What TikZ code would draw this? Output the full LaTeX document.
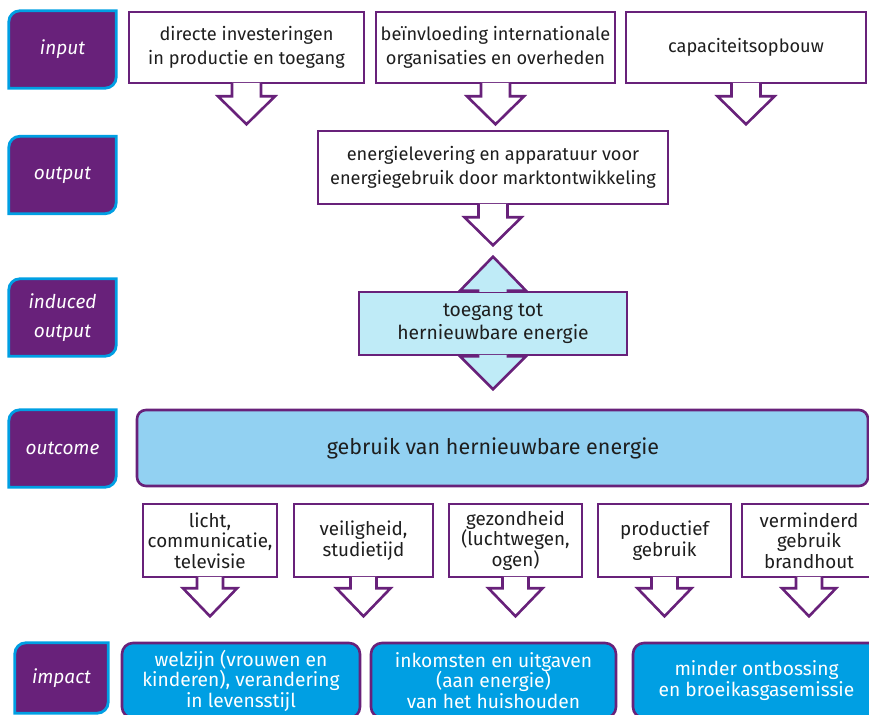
\documentclass[tikz,border=0pt]{standalone}
\usepackage{fontspec}
\setmainfont{Fira Sans}
\usetikzlibrary{positioning}

\definecolor{paars}{RGB}{104,33,122}
\definecolor{cyaan}{RGB}{0,159,227}
\definecolor{lichtblauw}{RGB}{146,209,242}
\definecolor{ijsblauw}{RGB}{191,235,247}
\definecolor{tekst}{RGB}{30,30,30}

\pgfdeclarelayer{achtergrond}
\pgfsetlayers{achtergrond,main}

% label box: rounded top left and bottom right
\newcommand\labelvorm[1]{%
  \begin{pgfonlayer}{achtergrond}
    \draw[labelrand] (#1.south west) -- ([yshift=-11pt]#1.north west)
      arc[start angle=180,end angle=90,radius=11pt] -- (#1.north east)
      -- ([yshift=11pt]#1.south east)
      arc[start angle=0,end angle=-90,radius=11pt] -- cycle;
  \end{pgfonlayer}}
% block arrow below a box: node, shaft length, half width of head
\newcommand\pijlomlaag[3]{%
  \draw[blokpijl] ([xshift={-(#3-14)*1pt},yshift=1.3pt]#1.south) -- ++(0,{-(#2+1.3)})
    -- ++(-14,0) -- ++(#3,-28) -- ++(#3,28) -- ++(-14,0) -- ++(0,{#2+1.3});}

\begin{document}
\begin{tikzpicture}[x=1pt, y=1pt,
    lbl/.style={text=white, font=\fontsize{19}{29}\selectfont\itshape, align=center,
      minimum width=107pt, minimum height=77pt, inner sep=0pt},
    labelrand/.style={fill=paars, draw=cyaan, line width=2.8pt},
    vak/.style={draw=paars, line width=2.6pt, fill=white, text=tekst, align=center, inner sep=0pt},
    bovenvak/.style={vak, minimum height=71pt, font=\fontsize{18.2}{24}\selectfont},
    middenvak/.style={vak, minimum width=134pt, minimum height=73pt, font=\fontsize{18.8}{20.5}\selectfont},
    impactvak/.style={vak, fill=cyaan, text=white, rounded corners=11pt, minimum height=75pt,
      font=\fontsize{19.2}{20.5}\selectfont},
    blokpijl/.style={draw=paars, line width=2.6pt, fill=white, line join=miter}]
    \useasboundingbox (0,0) rectangle (869,714);

    % labels on the left
    \node[lbl] (input) at (62.5,664.5) {input};
    \node[lbl] (output) at (62.5,539) {output};
    \node[lbl] (induced) at (62.5,396.5) {induced\\output};
    \node[lbl] (outcome) at (62.5,265.5) {outcome};
    \node[lbl, minimum width=93pt, minimum height=70pt] (impact) at (61.5,36) {impact};
    \labelvorm{input}
    \labelvorm{output}
    \labelvorm{induced}
    \labelvorm{outcome}
    \labelvorm{impact}

    % input
    \node[bovenvak, minimum width=235pt] (investering) at (246.5,666.5)
      {directe investeringen\\in productie en toegang};
    \node[bovenvak, minimum width=239pt] (beinvloeding) at (495.5,666.5)
      {beïnvloeding internationale\\organisaties en overheden};
    \node[bovenvak, minimum width=240pt] (capaciteit) at (746,666.5) {capaciteitsopbouw};
    \pijlomlaag{investering}{12}{28.5}
    \pijlomlaag{beinvloeding}{12}{28.5}
    \pijlomlaag{capaciteit}{12}{28.5}

    % output
    \node[bovenvak, minimum width=350pt, minimum height=73pt] (levering) at (493,546.5)
      {energielevering en apparatuur voor\\energiegebruik door marktontwikkeling};
    \pijlomlaag{levering}{12}{28.5}

    % induced output
    \node[vak, fill=ijsblauw, minimum width=268pt, minimum height=63pt,
      font=\fontsize{19.3}{23}\selectfont] (toegang) at (493,390.5)
      {toegang tot\\hernieuwbare energie};
    \draw[blokpijl, fill=ijsblauw] ([xshift=-15pt,yshift=-1.3pt]toegang.north) -- ++(0,1.3)
      -- ++(-18,0) -- ++(33,34) -- ++(33,-34) -- ++(-18,0) -- ++(0,-1.3);
    \draw[blokpijl, fill=ijsblauw] ([xshift=-15pt,yshift=1.3pt]toegang.south) -- ++(0,-1.3)
      -- ++(-18,0) -- ++(33,-33) -- ++(33,33) -- ++(-18,0) -- ++(0,1.3);

    % outcome
    \begin{pgfonlayer}{achtergrond}
      \draw[draw=paars, line width=2.6pt, fill=lichtblauw, rounded corners=9pt]
        (137,228) rectangle (868,304);
    \end{pgfonlayer}
    \node[text=tekst, font=\fontsize{21.5}{25}\selectfont] (gebruik) at (493,266)
      {gebruik van hernieuwbare energie};

    % effects
    \node[middenvak] (licht) at (210,173.5) {licht,\\communicatie,\\televisie};
    \node[middenvak, minimum width=139pt] (veiligheid) at (363.5,173.5) {veiligheid,\\studietijd};
    \node[middenvak, minimum width=133pt] (gezondheid) at (515.5,173.5) {gezondheid\\(luchtwegen,\\ogen)};
    \node[middenvak, minimum width=133pt] (productief) at (664.5,173.5) {productief\\gebruik};
    \node[middenvak] (brandhout) at (809,173.5) {verminderd\\gebruik\\brandhout};
    \foreach \n in {licht,veiligheid,gezondheid,productief,brandhout}
      \pijlomlaag{\n}{10}{27};

    % impact
    \node[impactvak, minimum width=238pt] (welzijn) at (241,33.5)
      {welzijn (vrouwen en\\kinderen), verandering\\in levensstijl};
    \node[impactvak, minimum width=245pt] (inkomsten) at (493.5,33.5)
      {inkomsten en uitgaven\\(aan energie)\\van het huishouden};
    \node[impactvak, minimum width=247pt] (ontbossing) at (756.5,33.5)
      {minder ontbossing\\en broeikasgasemissie};
\end{tikzpicture}
\end{document}
